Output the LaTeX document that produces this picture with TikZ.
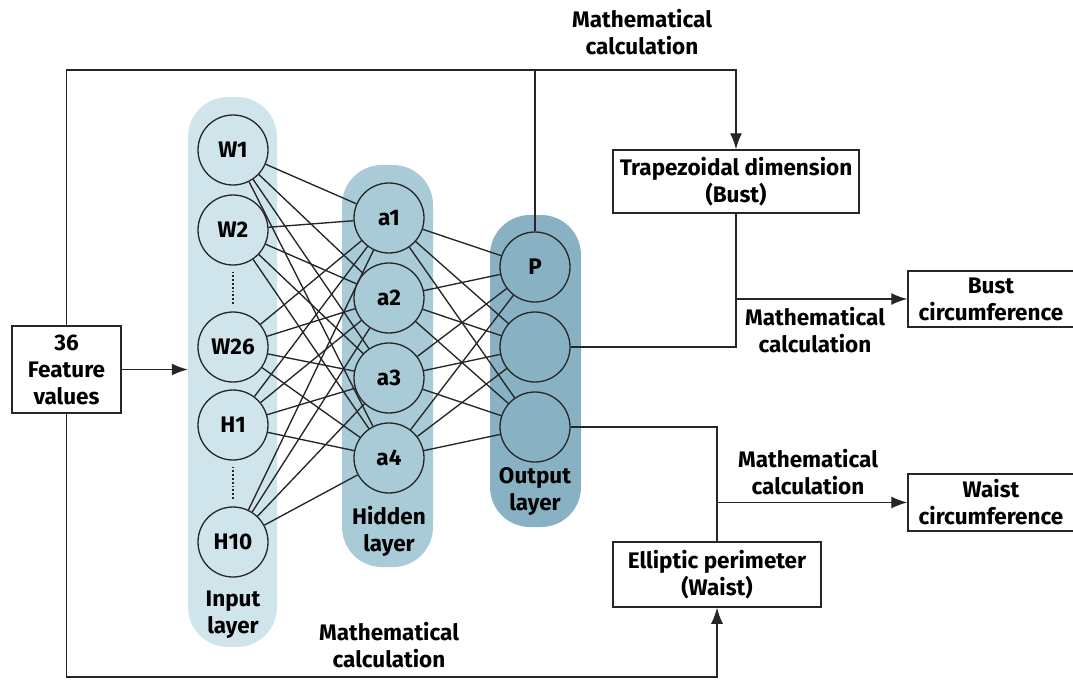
\documentclass[tikz,border=0pt]{standalone}
\usepackage{fontspec}
\setmainfont{Fira Sans}
\usetikzlibrary{arrows.meta,calc}
\definecolor{incolc}{HTML}{D0E4EC}
\definecolor{hidcolc}{HTML}{A9CAD7}
\definecolor{outcolc}{HTML}{88B2C4}
\definecolor{ink}{HTML}{262626}
\begin{document}
\begin{tikzpicture}[x=1pt,y=-1pt,
  neuron/.style={circle, draw=ink, line width=1.3pt, minimum size=70pt, inner sep=0pt, font=\fontsize{22.5}{26}\selectfont\bfseries},
  layercol/.style={rounded corners=40pt, inner sep=0pt},
  box/.style={draw=ink, line width=1.5pt, fill=white, align=center, inner sep=0pt, font=\fontsize{22.5}{27}\selectfont\bfseries},
  lbl/.style={align=center, inner sep=0pt, font=\fontsize{22.5}{27}\selectfont\bfseries},
  conn/.style={line width=1.4pt, draw=ink},
  arr/.style={conn, -{Latex[length=16pt,width=12pt]}},
  web/.style={line width=1.35pt, draw=ink}
]
\useasboundingbox (0,0) rectangle (1073,680);
% layer columns
\node[layercol, fill=incolc, minimum width=89pt, minimum height=550pt] (incol) at (232.5,372) {};
\node[layercol, fill=hidcolc, minimum width=91pt, minimum height=402pt] (hidcol) at (387.5,366) {};
\node[layercol, fill=outcolc, minimum width=91pt, minimum height=312pt] (outcol) at (535.5,371) {};
% input neurons
\node[neuron] (w1) at (233,150) {W1};
\node[neuron] (w2) at (233,230) {W2};
\node[neuron] (w26) at (233,347) {W26};
\node[neuron] (h1) at (233,425) {H1};
\node[neuron] (h10) at (233,542) {H10};
% hidden neurons
\node[neuron] (a1) at (389,218) {a1};
\node[neuron] (a2) at (389,298) {a2};
\node[neuron] (a3) at (389,378) {a3};
\node[neuron] (a4) at (389,458) {a4};
% output neurons
\node[neuron] (o1) at (535,267) {P};
\node[neuron] (o2) at (535,347) {};
\node[neuron] (o3) at (535,427) {};
% dots
\draw[ink, line width=1.8pt, dotted] ($(w2.south)+(0,6)$) -- ($(w26.north)+(0,-6)$);
\draw[ink, line width=1.8pt, dotted] ($(h1.south)+(0,6)$) -- ($(h10.north)+(0,-6)$);
% layer labels
\node[lbl] (inlbl) at (233,615) {Input\\layer};
\node[lbl] (hidlbl) at (389,531) {Hidden\\layer};
\node[lbl] (outlbl) at (535,492) {Output\\layer};
% web
\foreach \i in {w1,w2,w26,h1,h10}{
  \foreach \j in {a1,a2,a3,a4}{
    \draw[web] (\i) -- (\j);
  }
}
\foreach \i in {a1,a2,a3,a4}{
  \foreach \j in {o1,o2,o3}{
    \draw[web] (\i) -- (\j);
  }
}
% boxes
\node[box, minimum width=109pt, minimum height=87pt] (feat) at (66.5,369.5) {36\\Feature\\values};
\node[box, minimum width=246pt, minimum height=63pt] (trap) at (736,181.5) {Trapezoidal dimension\\(Bust)};
\node[box, minimum width=208pt, minimum height=65pt] (ell) at (717,574.5) {Elliptic perimeter\\(Waist)};
\node[box, minimum width=166pt, minimum height=56pt] (bust) at (991,299) {Bust\\circumference};
\node[box, minimum width=166pt, minimum height=57pt] (waist) at (991,502.5) {Waist\\circumference};
% coordinates
\coordinate (tl) at (67,70);
\coordinate (bl) at (67,677);
% connectors
\draw[arr] (feat.east) -- (feat.east -| incol.west);
\draw[arr] (feat.north) -- (feat.north |- tl) -- (tl -| trap.north) -- (trap.north);
\draw[conn] (o1.north) -- (o1.north |- tl);
\draw[arr] (feat.south) -- (feat.south |- bl) -| (ell.south);
\draw[conn] (o2.east) -| (trap.south);
\draw[arr] (trap.south |- bust.west) -- (bust.west);
\draw[conn] (o3.east) -| (ell.north);
\draw[arr] (ell.north |- waist.west) -- (waist.west);
% labels
\node[lbl] (lt) at (642,32) {Mathematical\\calculation};
\node[lbl] (lb) at (815,330) {Mathematical\\calculation};
\node[lbl] (lw) at (808,472) {Mathematical\\calculation};
\node[lbl] (lbot) at (389,645) {Mathematical\\calculation};
\end{tikzpicture}
\end{document}
